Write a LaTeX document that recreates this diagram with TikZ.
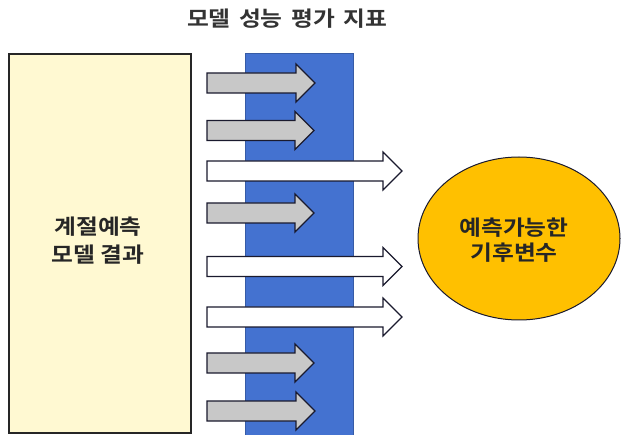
\documentclass[tikz,border=0pt]{standalone}
\usepackage{fontspec}
\newfontfamily\kr[FakeStretch=1.13]{Noto Sans CJK KR Bold}
\usetikzlibrary{shapes.geometric,shapes.arrows}
\definecolor{boxyellow}{HTML}{FFF9D2}
\definecolor{barblue}{HTML}{4472D0}
\definecolor{arrgray}{HTML}{C8C8C8}
\definecolor{gold}{HTML}{FFC000}
\definecolor{edge}{HTML}{1A1A2E}
\tikzset{
  x=1pt,y=-1pt,
  lbl/.style={font=\kr\fontsize{21}{28}\selectfont, align=center, text=black!85},
  grayarrow/.style={draw=edge, line width=1.3pt, fill=arrgray},
  whitearrow/.style={draw=edge, line width=1.1pt, fill=white},
}
\newcommand{\fatarrow}[4]{% style, y, x0, x1
  \draw[#1] (#3,#2-10) -- (#4-19,#2-10) -- (#4-19,#2-19) -- (#4,#2) -- (#4-19,#2+19) -- (#4-19,#2+10) -- (#3,#2+10) -- cycle;
}
\begin{document}
\begin{tikzpicture}
\useasboundingbox (0,0) rectangle (621,435);
\fill[white] (0,0) rectangle (621,435);
% left box
\node[draw=black!85, line width=1.3pt, fill=boxyellow, minimum width=182pt, minimum height=379pt, inner sep=0pt] (res) at (100,243.5) {};
\node[lbl] (restxt) at (98,241) {계절예측\\모델 결과};
% blue bar
\node[fill=barblue, draw=barblue!80!black, line width=0.6pt, minimum width=108pt, minimum height=384pt, inner sep=0pt] (bar) at (299,245) {};
% title
\node[lbl, font=\kr\fontsize{21}{24}\selectfont, text=black!80] (title) at (287,19) {모델\hspace{3pt} 성능\hspace{3pt} 평가\hspace{3pt} 지표};
% ellipse
\node[ellipse, draw=edge, line width=1pt, fill=gold, minimum width=202pt, minimum height=163pt, inner sep=0pt] (var) at (519,238.5) {};
\node[lbl, font=\kr\fontsize{21}{25}\selectfont] (vartxt) at (514,240) {예측가능한\\기후변수};
% arrows
\fatarrow{grayarrow}{83}{207}{315}
\fatarrow{grayarrow}{130.5}{207}{314}
\fatarrow{whitearrow}{171}{207}{402}
\fatarrow{grayarrow}{213}{207}{314}
\fatarrow{whitearrow}{266.5}{207}{402}
\fatarrow{whitearrow}{317}{207}{402}
\fatarrow{grayarrow}{363}{207}{314}
\fatarrow{grayarrow}{411}{207}{315}
\end{tikzpicture}
\end{document}
